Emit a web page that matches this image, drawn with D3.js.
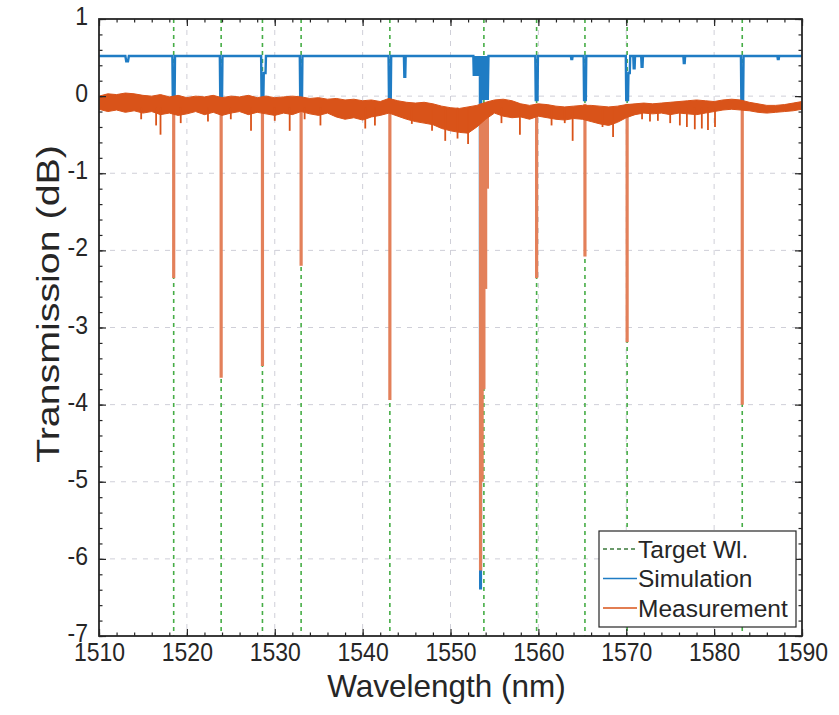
<!DOCTYPE html>
<html>
<head>
<meta charset="utf-8">
<script src="https://cdn.jsdelivr.net/npm/d3@7/dist/d3.min.js"></script>
<style>
  html, body { margin: 0; padding: 0; background: #fff; }
  svg { display: block; }
  text { font-family: "Liberation Sans", Arial, Helvetica, sans-serif; fill: #262626; }
</style>
</head>
<body>
<svg id="chart" width="839" height="715"></svg>
<script>
// ---- data -------------------------------------------------------------
// Target resonance wavelengths (nm)
const targetWl = [1518.5, 1523.9, 1528.6, 1533.0, 1543.1, 1553.8, 1559.8, 1565.3, 1570.1, 1583.2];

// Simulated transmission (dB): flat baseline with narrow resonance notches;
// the 1553 nm group holds a dense run of fringes
const simulation = [
  [1510.0, 0.52], [1513.0, 0.52], [1513.1, 0.45], [1513.3, 0.45], [1513.4, 0.52],
  [1518.35, 0.52], [1518.4, -0.05], [1518.6, -0.05], [1518.65, 0.52],
  [1523.75, 0.52], [1523.8, -0.05], [1524.0, -0.05], [1524.05, 0.52],
  [1528.45, 0.52], [1528.5, -0.05], [1528.7, -0.05], [1528.75, 0.30], [1528.95, 0.30], [1529.0, 0.52],
  [1532.85, 0.52], [1532.9, -0.05], [1533.1, -0.05], [1533.15, 0.52],
  [1542.95, 0.52], [1543.0, -0.05], [1543.2, -0.05], [1543.25, 0.52],
  [1544.7, 0.52], [1544.75, 0.25], [1544.85, 0.25], [1544.9, 0.52],
  [1552.6, 0.52], [1552.65, 0.26], [1552.7, 0.52], [1552.75, 0.26], [1552.8, 0.52],
  [1552.85, 0.26], [1552.9, 0.52], [1552.95, 0.26], [1553.0, 0.52], [1553.05, 0.26],
  [1553.1, 0.52], [1553.15, 0.26], [1553.2, 0.52], [1553.25, 0.26], [1553.35, 0.52],
  [1553.38, -6.38], [1553.46, -6.38], [1553.49, 0.52],
  [1553.6, -0.05], [1553.68, 0.52], [1553.76, -0.05], [1553.84, 0.52], [1553.92, -0.05],
  [1554.0, 0.52], [1554.08, -0.05], [1554.16, 0.52], [1554.24, -0.05], [1554.32, 0.52],
  [1559.65, 0.52], [1559.7, -0.05], [1559.9, -0.05], [1559.95, 0.52],
  [1563.7, 0.52], [1563.75, 0.48], [1563.85, 0.48], [1563.9, 0.52],
  [1565.15, 0.52], [1565.2, -0.05], [1565.4, -0.05], [1565.45, 0.52],
  [1569.95, 0.52], [1570.0, -0.05], [1570.2, -0.05], [1570.25, 0.30], [1570.4, 0.30], [1570.45, 0.52],
  [1570.8, 0.52], [1570.85, 0.36], [1570.95, 0.36], [1571.0, 0.52],
  [1571.7, 0.52], [1571.75, 0.38], [1571.85, 0.38], [1571.9, 0.52],
  [1576.5, 0.52], [1576.55, 0.43], [1576.65, 0.43], [1576.7, 0.52],
  [1583.05, 0.52], [1583.1, -0.05], [1583.3, -0.05], [1583.35, 0.52],
  [1587.2, 0.52], [1587.25, 0.48], [1587.35, 0.48], [1587.4, 0.52],
  [1590.0, 0.52]
];

// Measured transmission: noise band (upper / lower envelope, dB) sampled every 1 nm
const measWl = d3.range(1510, 1591, 1);
const measTop = [
   0.00,  0.03,  0.02,  0.04,  0.03,  0.01,  0.00,  0.02, -0.01,  0.01,
  -0.02,  0.00, -0.01,  0.01, -0.02,  0.00, -0.01,  0.01, -0.02,  0.00,
  -0.02, -0.01,  0.00, -0.01, -0.03, -0.02, -0.04, -0.03, -0.05, -0.04,
  -0.06, -0.05, -0.07, -0.03, -0.06, -0.08, -0.09, -0.08, -0.10, -0.13,
  -0.15, -0.16, -0.14, -0.12, -0.08, -0.05, -0.04, -0.06, -0.10, -0.12,
  -0.10, -0.11, -0.13, -0.14, -0.13, -0.12, -0.12, -0.13, -0.14, -0.13,
  -0.11, -0.10, -0.09, -0.10, -0.09, -0.08, -0.07, -0.06, -0.05, -0.06,
  -0.07, -0.05, -0.04, -0.05, -0.08, -0.10, -0.12, -0.12, -0.11, -0.09,
  -0.07
];
const measBottom = [
  -0.17, -0.20, -0.18, -0.21, -0.19, -0.22, -0.20, -0.24, -0.22, -0.25,
  -0.23, -0.20, -0.24, -0.21, -0.25, -0.22, -0.20, -0.24, -0.21, -0.23,
  -0.25, -0.22, -0.24, -0.20, -0.23, -0.25, -0.22, -0.27, -0.30, -0.28,
  -0.31, -0.27, -0.25, -0.22, -0.26, -0.30, -0.33, -0.35, -0.37, -0.42,
  -0.45, -0.47, -0.48, -0.40, -0.30, -0.22, -0.26, -0.28, -0.27, -0.30,
  -0.26, -0.28, -0.30, -0.31, -0.29, -0.30, -0.33, -0.36, -0.38, -0.34,
  -0.28, -0.24, -0.22, -0.23, -0.22, -0.24, -0.22, -0.23, -0.24, -0.22,
  -0.20, -0.18, -0.17, -0.18, -0.19, -0.21, -0.22, -0.21, -0.20, -0.19,
  -0.17
];

// Short downward noise spikes in the measurement: [wavelength nm, minimum dB]
const measSpikes = [
  [1514.8, -0.30], [1516.5, -0.38], [1517.0, -0.50], [1519.3, -0.35], [1522.4, -0.33],
  [1525.0, -0.30], [1527.3, -0.45], [1530.0, -0.32], [1531.7, -0.45], [1533.4, -0.30],
  [1535.2, -0.38], [1540.3, -0.42], [1541.4, -0.38], [1545.6, -0.36], [1547.9, -0.45],
  [1549.4, -0.58], [1550.8, -0.55], [1552.0, -0.62], [1555.8, -0.35], [1557.9, -0.50],
  [1561.5, -0.38], [1563.0, -0.35], [1563.9, -0.58], [1567.3, -0.40], [1568.5, -0.53],
  [1571.8, -0.30], [1572.7, -0.33], [1573.6, -0.32], [1575.0, -0.35], [1576.1, -0.38],
  [1576.9, -0.40], [1577.8, -0.43], [1578.6, -0.42], [1579.3, -0.44], [1580.1, -0.40]
];

// Measured resonance notches: [wavelength nm, depth dB]
const measDips = [
  [1518.5, -2.36], [1523.9, -3.65], [1528.6, -3.50], [1533.0, -2.20], [1543.1, -3.94],
  [1553.42, -6.15], [1553.6, -5.00], [1553.8, -3.80], [1554.0, -2.50], [1554.2, -1.20],
  [1559.8, -2.36], [1565.3, -2.08], [1570.1, -3.19], [1583.2, -4.00]
];

const xMajor = d3.range(1510, 1591, 10);
const xMinor = d3.range(1510, 1591, 2);
const yMajor = d3.range(-7, 1.01, 1);
const yMinor = d3.range(-7, 1.01, 0.2).map(v => Math.round(v * 10) / 10);

const legendItems = ["Target Wl.", "Simulation", "Measurement"];

// ---- layout -------------------------------------------------------------
const svg = d3.select("#chart");
const pL = 99, pR = 802, pT = 19, pB = 636;
const axisColor = "#262626";
const cBlue = "#1f7cc4", cOrange = "#d95319", cGreen = "#46ad46";

const x = d3.scaleLinear().domain([1510, 1590]).range([pL, pR]);
const y = d3.scaleLinear().domain([-7, 1]).range([pB, pT]);

svg.append("defs").append("clipPath").attr("id", "plotclip")
  .append("rect").attr("x", pL).attr("y", pT).attr("width", pR - pL).attr("height", pB - pT);

const plot = svg.append("g").attr("clip-path", "url(#plotclip)");

// grid
plot.append("g").selectAll("line").data(xMajor.slice(1, -1)).join("line")
  .attr("x1", d => x(d)).attr("x2", d => x(d)).attr("y1", pT).attr("y2", pB)
  .attr("stroke", "#cfcfd8").attr("stroke-width", 1).attr("stroke-dasharray", "5,6");
plot.append("g").selectAll("line").data(yMajor.slice(1, -1)).join("line")
  .attr("x1", pL).attr("x2", pR).attr("y1", d => y(d)).attr("y2", d => y(d))
  .attr("stroke", "#cfcfd8").attr("stroke-width", 1).attr("stroke-dasharray", "5,6");

// target wavelength markers
plot.append("g").selectAll("line").data(targetWl).join("line")
  .attr("x1", d => x(d)).attr("x2", d => x(d)).attr("y1", pT).attr("y2", pB)
  .attr("stroke", cGreen).attr("stroke-width", 1.6).attr("stroke-dasharray", "4,4");

// simulation
plot.append("path").datum(simulation)
  .attr("fill", "none").attr("stroke", cBlue).attr("stroke-width", 2.4)
  .attr("stroke-linejoin", "miter")
  .attr("d", d3.line().x(d => x(d[0])).y(d => y(d[1])));

// measurement: resonance notches
plot.append("g").selectAll("line").data(measDips).join("line")
  .attr("x1", d => x(d[0])).attr("x2", d => x(d[0]))
  .attr("y1", y(-0.1)).attr("y2", d => y(d[1]))
  .attr("stroke", "#e3805a").attr("stroke-width", 3.2);

// measurement: noise band
const band = measWl.map((w, i) => ({ w, hi: measTop[i], lo: measBottom[i] }));
plot.append("path").datum(band)
  .attr("fill", cOrange).attr("stroke", cOrange).attr("stroke-width", 1)
  .attr("d", d3.area().x(d => x(d.w)).y0(d => y(d.lo)).y1(d => y(d.hi)));

// measurement: noise spikes
plot.append("g").selectAll("line").data(measSpikes).join("line")
  .attr("x1", d => x(d[0])).attr("x2", d => x(d[0]))
  .attr("y1", y(-0.15)).attr("y2", d => y(d[1]))
  .attr("stroke", cOrange).attr("stroke-width", 1.8);

// ---- axes -------------------------------------------------------------
// scale a text about its own anchor point
function stretch(sel, sx, sy) {
  sel.each(function () {
    const t = d3.select(this);
    const tx = +t.attr("x") || 0, ty = +t.attr("y") || 0;
    t.attr("transform", `translate(${tx},${ty}) scale(${sx},${sy}) translate(${-tx},${-ty})`);
  });
}

function styleAxis(g) {
  g.select(".domain").remove();
  g.selectAll(".tick line").attr("stroke", axisColor).attr("stroke-width", 1.2);
  g.selectAll("text").attr("fill", axisColor).style("font-size", "23px")
    .attr("font-family", "Liberation Sans, Arial, sans-serif")
    .text(function () { return this.textContent.replace("−", "-"); })
    .call(stretch, 1, 1.1);
}

svg.append("g").attr("transform", `translate(0,${pB})`)
  .call(d3.axisBottom(x).tickValues(xMinor).tickSize(-3.5).tickFormat("")).call(styleAxis);
svg.append("g").attr("transform", `translate(0,${pT})`)
  .call(d3.axisTop(x).tickValues(xMinor).tickSize(-3.5).tickFormat("")).call(styleAxis);
svg.append("g").attr("transform", `translate(${pL},0)`)
  .call(d3.axisLeft(y).tickValues(yMinor).tickSize(-3.5).tickFormat("")).call(styleAxis);
svg.append("g").attr("transform", `translate(${pR},0)`)
  .call(d3.axisRight(y).tickValues(yMinor).tickSize(-3.5).tickFormat("")).call(styleAxis);

svg.append("g").attr("transform", `translate(0,${pB})`)
  .call(d3.axisBottom(x).tickValues(xMajor).tickSize(-7).tickPadding(7).tickFormat(d3.format("d")))
  .call(styleAxis);
svg.append("g").attr("transform", `translate(0,${pT})`)
  .call(d3.axisTop(x).tickValues(xMajor).tickSize(-7).tickFormat("")).call(styleAxis);
const yAxisG = svg.append("g").attr("transform", `translate(${pL},0)`)
  .call(d3.axisLeft(y).tickValues(yMajor).tickSize(-7).tickPadding(11).tickFormat(d3.format("d")))
  .call(styleAxis);
yAxisG.selectAll(".tick text").attr("dy", "0.22em");
svg.append("g").attr("transform", `translate(${pR},0)`)
  .call(d3.axisRight(y).tickValues(yMajor).tickSize(-7).tickFormat("")).call(styleAxis);

// frame
svg.append("rect").attr("x", pL).attr("y", pT).attr("width", pR - pL).attr("height", pB - pT)
  .attr("fill", "none").attr("stroke", axisColor).attr("stroke-width", 1.8);

// axis titles
svg.append("text").attr("x", (pL + pR) / 2 - 4).attr("y", 697)
  .attr("text-anchor", "middle").style("font-size", "31.5px").text("Wavelength (nm)");
svg.append("text")
  .attr("transform", `translate(59,304) rotate(-90) scale(1.27,1)`)
  .attr("text-anchor", "middle").style("font-size", "31px").text("Transmission (dB)");

// ---- legend -------------------------------------------------------------
const lg = svg.append("g").attr("transform", "translate(599,531)");
lg.append("rect").attr("width", 197).attr("height", 96)
  .attr("fill", "#fff").attr("stroke", axisColor).attr("stroke-width", 1.2);
const legendStyles = [
  { color: "#3b7a3b", dash: "4,3", w: 1.3 },
  { color: cBlue, dash: null, w: 1.3 },
  { color: cOrange, dash: null, w: 1.3 }
];
legendItems.forEach((name, i) => {
  const yy = 18 + i * 29.5;
  lg.append("line").attr("x1", 4).attr("x2", 38).attr("y1", yy).attr("y2", yy)
    .attr("stroke", legendStyles[i].color).attr("stroke-width", legendStyles[i].w)
    .attr("stroke-dasharray", legendStyles[i].dash);
  lg.append("text").attr("x", 39).attr("y", yy).attr("dy", "0.35em")
    .style("font-size", "24.5px").text(name);
});
</script>
</body>
</html>
